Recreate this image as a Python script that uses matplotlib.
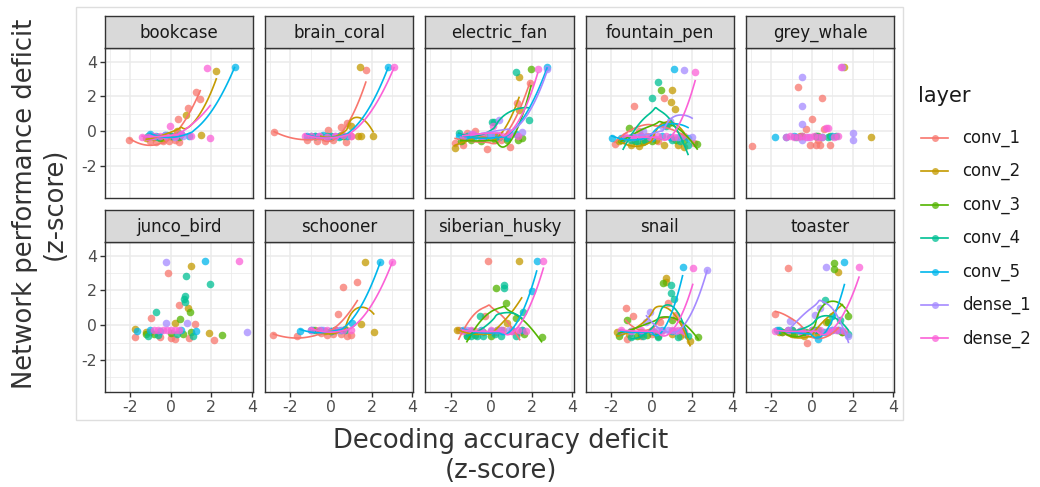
import numpy as np
import matplotlib.pyplot as plt
from matplotlib.patches import Rectangle
from matplotlib.lines import Line2D

W, H = 1040, 487

layers = ['conv_1', 'conv_2', 'conv_3', 'conv_4', 'conv_5', 'dense_1', 'dense_2']
colors = ['#F8766D', '#C49A00', '#53B400', '#00C094', '#00B6EB', '#A58AFF', '#FB61D7']

# decoding deficit (x) / network deficit (y), per panel and layer
bookcase = {
    'conv_1': ([-2.03, -1.0, -0.7, -0.4, -0.1, 0.2, 0.4, 0.38, 0.84, 1.26, 1.46],
               [-0.52, -0.6, -0.65, -0.55, -0.6, -0.5, -0.65, 0.67, 1.33, 2.27, 1.83]),
    'conv_2': ([-1.2, -0.8, -0.4, 0.0, 0.31, 0.77, 1.49, 2.25],
               [-0.4, -0.35, -0.45, -0.3, 0.0, 0.9, -0.25, 3.48]),
    'conv_3': ([-1.0, -0.5, 0.0, 0.4], [-0.3, -0.4, -0.3, -0.35]),
    'conv_4': ([-1.1, -0.6, -0.2, 0.3], [-0.3, -0.35, -0.25, -0.3]),
    'conv_5': ([-1.0, -0.7, -0.3, 0.1, 0.5, 0.9, 3.15],
               [-0.2, -0.3, -0.25, -0.3, -0.2, -0.3, 3.67]),
    'dense_1': ([-0.9, -0.3, 0.2, 0.6], [-0.3, -0.25, -0.35, -0.3]),
    'dense_2': ([-1.4, -1.1, -0.8, -0.5, -0.2, -0.05, 0.2, 0.5, 1.0, 1.79, 1.95],
                [-0.35, -0.35, -0.3, -0.3, -0.35, 0.29, -0.3, -0.2, -0.3, 3.65, -0.38]),
}
brain_coral = {
    'conv_1': ([-2.8, -1.2, -0.67, -0.3, -0.13, 0.1, 0.52, 0.72, 0.77, 1.0, 1.72],
               [-0.04, -0.5, -0.6, -0.55, 0.06, -0.5, 0.25, -0.65, 0.44, -0.3, 3.5]),
    'conv_2': ([-0.5, 0.0, 0.5, 1.0, 1.35, 1.43, 1.5, 2.08],
               [-0.3, -0.3, -0.25, 0.3, -0.3, 3.7, -0.3, -0.3]),
    'conv_3': ([-0.8, 0.0, 0.6], [-0.3, -0.35, -0.3]),
    'conv_4': ([-1.0, -0.2, 0.4], [-0.3, -0.3, -0.35]),
    'conv_5': ([-1.2, -0.8, -0.4, 0.0, 0.4, 0.8, 2.82],
               [-0.3, -0.3, -0.25, -0.3, -0.3, -0.3, 3.67]),
    'dense_1': ([-0.6, 0.2], [-0.3, -0.3]),
    'dense_2': ([-1.3, -1.0, -0.6, -0.2, 0.2, 0.6, 1.0, 3.11],
                [-0.3, -0.3, -0.3, -0.35, -0.3, -0.25, -0.3, 3.67]),
}
electric_fan = {
    'conv_1': ([-1.78, -1.37, -1.2, -0.8, -0.22, 0.2, 0.5, 0.92, 1.27, 1.9],
               [-0.67, -0.8, -0.1, 0.0, -1.06, -0.3, -0.5, -0.9, 1.63, 2.75]),
    'conv_2': ([-1.8, -1.4, -1.0, -0.4, 0.3, 0.9, 1.37, 1.37],
               [-1.0, -0.5, -0.3, -0.4, -0.3, -0.2, 1.2, 3.13]),
    'conv_3': ([-1.5, -1.0, -0.5, 0.2, 0.8, 1.3, 1.5, 1.96],
               [-0.6, -0.5, -0.55, -0.5, -0.5, -0.5, -0.42, 3.58]),
    'conv_4': ([-1.6, -1.2, -0.3, 0.05, 0.15, 0.8, 1.22, 1.88],
               [-0.1, -0.3, -0.3, 0.54, 0.54, -0.4, 3.42, 0.63]),
    'conv_5': ([-1.6, -1.2, -0.8, -0.4, 0.0, 0.4, 0.8, 1.2, 2.75],
               [-0.3, -0.35, -0.3, -0.4, -0.3, -0.35, -0.3, -0.2, 3.71]),
    'dense_1': ([-1.0, -0.5, 0.0, 0.4, 0.9, 1.5, 2.75],
                [-0.2, -0.3, -0.25, 0.63, -0.1, -0.04, 3.56]),
    'dense_2': ([-1.4, -0.9, -0.4, 0.1, 0.5, 0.9, 1.3, 2.29],
                [-0.3, -0.2, -0.3, 0.3, -0.25, -0.2, -0.3, 3.6]),
}
fountain_pen = {
    'conv_1': ([-1.8, -1.4, -0.84, -0.6, -0.2, 0.3, 0.63, 1.0, 1.6, 2.1],
               [-0.75, -0.5, 1.44, 0.0, -0.3, -0.6, 1.88, -0.4, -0.3, -0.7]),
    'conv_2': ([-1.6, -1.0, -0.6, -0.3, 0.2, 0.6, 0.96, 1.02, 1.15, 1.3, 1.6],
               [-0.6, -0.8, -0.85, -0.6, -0.5, -0.8, 1.7, 2.37, 1.27, -0.8, -0.9]),
    'conv_3': ([-1.5, -1.1, -0.8, -0.4, 0.0, 0.45, 0.8, 1.2, 1.6, 2.25],
               [-0.5, 0.2, -0.55, -0.65, -0.6, 2.37, 0.4, -0.5, -0.5, -0.75]),
    'conv_4': ([-1.4, -1.0, -0.7, -0.3, 0.04, 0.3, 0.7, 1.0, 1.4, 1.8],
               [-0.4, -0.5, -0.6, -0.5, 1.88, 2.8, 0.3, -0.5, -0.6, -0.8]),
    'conv_5': ([-1.96, -1.5, -1.0, -0.5, 0.0, 0.5, 0.9, 1.1, 1.4, 1.8],
               [-0.38, -0.4, -0.35, -0.3, -0.4, -0.3, -0.35, 3.58, -0.35, -0.4]),
    'dense_1': ([-0.9, -0.4, 0.0, 0.5, 0.9, 1.3, 1.6, 2.0],
                [-0.3, 0.0, -0.3, 0.3, 0.6, -0.35, 3.52, -0.35]),
    'dense_2': ([-1.3, -0.9, -0.5, -0.1, 0.3, 0.7, 1.1, 1.5, 2.15],
                [-0.3, -0.35, -0.3, -0.35, -0.3, -0.3, -0.35, -0.3, 3.42]),
}
grey_whale = {
    'conv_1': ([-2.93, -0.7, -0.3, 0.0, 0.51, 0.2, 0.4, -0.1, 0.6, 0.9, 0.3],
               [-0.87, 2.52, 0.1, 0.67, 1.92, -0.8, -0.8, -0.8, 0.1, -0.8, -0.5]),
    'conv_2': ([1.6, 2.89, -0.6, 0.2], [3.67, -0.33, -0.3, -0.3]),
    'conv_3': ([-0.5, 0.3, 0.9], [-0.3, -0.3, -0.3]),
    'conv_4': ([-0.8, 0.2, 0.8, 1.2], [-0.33, -0.3, -0.33, -0.3]),
    'conv_5': ([-1.8, -1.3, -0.9, 0.5, 1.0], [-0.33, -0.33, -0.3, -0.33, -0.3]),
    'dense_1': ([-0.47, -0.47, -0.47, -0.47, 1.5, 2.0, 2.0, -0.2],
                [3.13, 1.46, 0.4, -0.5, 3.67, -0.1, -0.52, -0.33]),
    'dense_2': ([-1.3, -1.1, -0.9, -0.7, -0.5, -0.3, -0.1, 0.1, 0.3, 0.5, 0.7, 0.8, 1.1, 1.3, 1.45],
                [-0.33, -0.3, -0.33, -0.33, -0.3, -0.33, -0.33, -0.3, -0.33, -0.33, 0.15, 0.15, -0.33, -0.3, 3.67]),
}
junco_bird = {
    'conv_1': ([-1.77, -0.97, -0.15, 0.4, -0.5, 0.0, 0.9, 1.2, 2.15, -1.0, 0.2],
               [-0.71, 0.42, 3.02, 1.15, -0.7, -0.75, -0.75, 0.05, -0.87, -0.4, -0.8]),
    'conv_2': ([-1.74, 1.0, 0.87, 1.87, 0.2, -1.2], [-0.23, 3.42, 1.0, -0.48, 0.1, -0.4]),
    'conv_3': ([0.93, 0.48, 2.52, -1.2, -0.8, 0.0, 0.6, 1.0],
               [0.77, 0.38, -0.58, -0.5, -0.5, -0.45, -0.5, -0.4]),
    'conv_4': ([0.77, 1.95, 0.7, 0.65, 0.72, -0.7, -1.1, -0.6, 0.3, 1.1],
               [2.83, 2.37, 1.7, 1.5, 1.35, 0.77, -0.6, -0.55, -0.5, -0.6]),
    'conv_5': ([-1.66, 1.7, -1.0, -0.5, 0.5, 1.25], [-0.35, 3.69, -0.3, -0.35, -0.25, -0.35]),
    'dense_1': ([-0.25, 3.75, -0.25, 0.8], [3.65, -0.38, 0.1, 0.1]),
    'dense_2': ([3.36, -0.8, -0.6, -0.4, -0.2, 0.0, 0.2, 0.4],
                [3.69, -0.3, -0.3, -0.3, -0.3, -0.3, -0.3, -0.3]),
}
schooner = {
    'conv_1': ([-2.84, -1.66, -0.5, -0.2, 0.1, 0.36, 0.5, 0.61, 0.8, 1.0, 1.3],
               [-0.54, -0.63, -0.45, -0.55, -0.5, 0.63, -0.5, 2.21, -0.65, -0.55, 2.48]),
    'conv_2': ([-0.8, -0.3, 0.2, 0.7, 1.46, 1.67, 2.11],
               [-0.3, -0.35, -0.3, -0.2, 0.08, 3.62, -0.42]),
    'conv_3': ([-0.6, 0.2], [-0.35, -0.3]),
    'conv_4': ([-0.9, 0.0, 0.7], [-0.3, -0.35, -0.3]),
    'conv_5': ([-1.52, -1.0, -0.5, 0.0, 0.5, 1.02, 2.43],
               [-0.35, -0.3, -0.3, -0.35, -0.3, 0.15, 3.65]),
    'dense_1': ([-0.4, 0.4], [-0.3, -0.3]),
    'dense_2': ([-1.0, -0.6, -0.2, 0.2, 0.6, 1.0, 3.03],
                [-0.3, -0.25, -0.3, -0.3, -0.3, -0.3, 3.65]),
}
siberian_husky = {
    'conv_1': ([-1.6, -1.2, -0.8, -0.14, -0.3, 0.2, 0.6, 1.0, 1.4],
               [-0.3, -0.4, -0.35, 3.69, 0.5, -0.4, -0.3, -0.35, -0.4]),
    'conv_2': ([-1.7, -1.0, -0.4, 0.3, 0.8, 1.37, 1.5],
               [-0.3, -0.35, -0.4, -0.3, 0.1, 3.69, -0.3]),
    'conv_3': ([-1.2, -0.8, 0.0, 0.24, 0.73, 1.2, 1.6, 2.48],
               [-0.6, -0.55, -0.6, 2.15, 1.3, 0.4, -0.5, -0.67]),
    'conv_4': ([-1.2, -1.0, -0.7, -0.55, -0.4, 0.2, 0.5, 0.63, 0.63, 1.2, 1.55],
               [-0.6, -0.6, -0.6, 0.54, -0.6, -0.5, -0.6, 2.3, 2.15, -0.6, 0.75]),
    'conv_5': ([-1.4, -1.0, -0.5, 0.0, 0.5, 1.0, 1.5, 1.99, 2.24],
               [-0.3, -0.35, -0.3, -0.35, -0.3, -0.3, -0.3, 1.96, 3.69]),
    'dense_1': ([-1.2, -0.5, 0.3, 0.9], [-0.3, -0.35, -0.3, -0.3]),
    'dense_2': ([-1.4, -1.0, -0.5, 0.0, 0.5, 1.0, 1.3, 1.7, 2.57],
                [-0.35, -0.3, -0.35, -0.3, -0.3, -0.35, -0.3, -0.35, 3.69]),
}
snail = {
    'conv_1': ([-1.27, -0.9, -1.2, -0.5, 0.0, 0.4, 0.8, 1.2, 1.6],
               [0.96, 0.5, -0.8, -0.6, -0.5, 0.2, 1.3, 0.6, -0.5]),
    'conv_2': ([-1.7, -1.1, -0.5, 0.1, 0.7, 0.7, 1.0, 1.4, 1.9],
               [-0.4, -0.5, -0.5, -0.4, 2.7, 2.5, -0.5, -0.6, -0.9]),
    'conv_3': ([-1.6, -1.22, -0.7, -0.2, 0.3, 0.58, 1.0, 1.5, 2.3],
               [-0.6, 0.29, -0.6, -0.55, -0.6, 2.42, 0.3, -0.3, -0.71]),
    'conv_4': ([-1.0, -0.4, 0.3, 0.95, 0.95, 1.1, 1.3, 1.8],
               [-0.7, -0.6, -0.7, 2.3, 1.85, 1.5, -0.7, -0.6]),
    'conv_5': ([-1.5, -1.0, -0.5, 0.0, 0.5, 1.0, 1.53],
               [-0.4, -0.35, -0.4, -0.35, -0.3, -0.35, 3.37]),
    'dense_1': ([-0.07, -0.25, 0.3, 0.8, 1.2, 1.5, 2.74],
                [0.77, 0.2, -0.3, -0.3, -0.35, -0.3, 3.17]),
    'dense_2': ([-1.5, -1.0, -0.5, 0.0, 0.5, 1.0, 1.3, 1.6, 2.03],
                [-0.3, -0.35, -0.3, -0.3, -0.35, -0.3, -0.3, -0.35, 3.31]),
}
toaster = {
    'conv_1': ([-1.8, -1.16, -1.5, -1.0, -0.5, -0.22, 0.3, 0.8, 1.3],
               [0.63, 3.27, -0.4, -0.3, -0.4, -1.0, -0.5, -0.4, -0.3]),
    'conv_2': ([-1.6, -1.0, -0.4, 0.2, 0.7, 1.3, 1.5],
               [-0.4, -0.5, -0.6, -0.5, 0.2, 3.08, -0.4]),
    'conv_3': ([-1.5, -0.9, -0.3, 0.3, 0.8, 1.1, 1.1, 1.5, 1.8],
               [-0.4, -0.5, -0.4, -0.3, 0.2, 3.56, 3.21, -0.4, 0.5]),
    'conv_4': ([-1.6, -1.0, -0.4, 0.2, 0.65, 1.0, 1.4, 1.8],
               [-0.3, -0.3, -0.4, -0.3, 1.44, 0.5, 0.3, -0.5]),
    'conv_5': ([-1.7, -1.2, -0.6, 0.0, 0.3, 0.6, 1.0, 1.3, 1.6],
               [-0.3, -0.3, -0.35, -0.3, -0.8, -0.4, -0.3, -0.3, 3.65]),
    'dense_1': ([-1.07, -0.5, 0.16, 0.4, 0.69, 1.0, 1.4, 1.8],
                [0.25, -0.3, 0.58, 1.0, 3.37, -0.3, -0.3, -0.6]),
    'dense_2': ([-1.8, -1.2, -0.6, 0.0, 0.4, 0.8, 1.2, 1.6, 2.32],
                [-0.35, -0.3, -0.35, -0.3, -0.3, -0.35, -0.3, -0.35, 3.37]),
}

panel_names = ['bookcase', 'brain_coral', 'electric_fan', 'fountain_pen', 'grey_whale',
               'junco_bird', 'schooner', 'siberian_husky', 'snail', 'toaster']
panel_data = [bookcase, brain_coral, electric_fan, fountain_pen, grey_whale,
              junco_bird, schooner, siberian_husky, snail, toaster]
# layers that got a smooth line in each panel
smoothed = {
    'bookcase': ['conv_1', 'conv_2', 'conv_5', 'dense_2'],
    'brain_coral': ['conv_1', 'conv_2', 'conv_5', 'dense_2'],
    'electric_fan': layers,
    'fountain_pen': layers,
    'grey_whale': [],
    'junco_bird': [],
    'schooner': ['conv_1', 'conv_2', 'conv_5', 'dense_2'],
    'siberian_husky': ['conv_1', 'conv_2', 'conv_3', 'conv_4', 'conv_5', 'dense_2'],
    'snail': layers,
    'toaster': layers,
}


def loess(x, y, grid, span=1.0):
    # local quadratic fit with tricube weights (like R's loess)
    x = np.asarray(x, float)
    y = np.asarray(y, float)
    n = len(x)
    q = max(int(np.floor(n * span)), 3)
    out = []
    for x0 in grid:
        d = np.abs(x - x0)
        h = np.sort(d)[min(q, n) - 1] * 1.1 + 1e-9
        w = np.clip(1 - (d / h) ** 3, 0, None) ** 3
        A = np.vstack([np.ones(n), x - x0, (x - x0) ** 2]).T
        sw = np.sqrt(w)
        beta = np.linalg.lstsq(A * sw[:, None], y * sw, rcond=None)[0]
        out.append(beta[0])
    return np.array(out)


def box(l, t, r, b):
    return [l / W, 1 - b / H, (r - l) / W, (b - t) / H]


fig = plt.figure(figsize=(W / 100, H / 100), dpi=100)

# light frame of the panel area
fig.patches.append(Rectangle((76 / W, 1 - 420 / H), (903 - 76) / W, (420 - 7) / H,
                             transform=fig.transFigure, fill=False,
                             edgecolor='#DEDEDE', lw=1.0))

lefts = [104.7, 265.0, 425.3, 585.6, 746.0]
pw = 148.3
rows = [(15.7, 48.0, 197.7), (210.0, 242.0, 392.0)]

for i, name in enumerate(panel_names):
    r, c = divmod(i, 5)
    st, pt, pb = rows[r]
    l = lefts[c]

    ax = fig.add_axes(box(l, pt, l + pw, pb))
    ax.set_xlim(-3.25, 4.06)
    ax.set_ylim(-3.85, 4.79)
    ax.set_xticks([-2, 0, 2, 4])
    ax.set_yticks([-2, 0, 2, 4])
    ax.set_xticks([-3, -1, 1, 3], minor=True)
    ax.set_yticks([-3, -1, 1, 3], minor=True)
    ax.grid(True, which='major', color='#EBEBEB', lw=1.1)
    ax.grid(True, which='minor', color='#EBEBEB', lw=0.55)
    ax.set_axisbelow(True)
    for s in ax.spines.values():
        s.set_color('#333333')
        s.set_linewidth(1.0)
    ax.tick_params(which='minor', length=0)
    ax.tick_params(which='major', length=3.5, width=1.0, color='#333333',
                   labelcolor='#4D4D4D', labelsize=11.3, pad=2)
    if r == 0:
        ax.tick_params(axis='x', which='major', length=0, labelbottom=False)
    if c != 0:
        ax.tick_params(axis='y', which='major', length=0, labelleft=False)
    ax.set_xticklabels(['-2', '0', '2', '4'])
    ax.set_yticklabels(['-2', '0', '2', '4'])

    d = panel_data[i]
    for k, lay in enumerate(layers):
        xs, ys = d[lay]
        ax.scatter(xs, ys, s=30, color=colors[k], alpha=0.75, lw=0, zorder=3)
    for k, lay in enumerate(layers):
        if lay not in smoothed[name]:
            continue
        xs, ys = d[lay]
        grid = np.linspace(min(xs), max(xs), 80)
        ax.plot(grid, loess(xs, ys, grid), color=colors[k], lw=1.2, zorder=4)

    sax = fig.add_axes(box(l, st, l + pw, pt))
    sax.set_facecolor('#D9D9D9')
    sax.set_xticks([])
    sax.set_yticks([])
    for s in sax.spines.values():
        s.set_color('#333333')
        s.set_linewidth(1.0)
    sax.text(0.5, 0.47, name, ha='center', va='center', fontsize=12,
             color='#1A1A1A', transform=sax.transAxes)

# axis titles
fig.text(501 / W, 1 - 456 / H, 'Decoding accuracy deficit\n(z-score)', ha='center',
         va='center', fontsize=18.6, color='#333333', linespacing=1.2)
fig.text(40 / W, 1 - 204 / H, 'Network performance deficit\n(z-score)', ha='center',
         va='center', fontsize=18.6, color='#333333', rotation=90, linespacing=1.2)

# legend
fig.text(918 / W, 1 - 96 / H, 'layer', ha='left', va='center', fontsize=15, color='#1A1A1A')
for k, lay in enumerate(layers):
    y = 1 - (138 + 33.4 * k) / H
    fig.lines.append(Line2D([921 / W, 948 / W], [y, y], transform=fig.transFigure,
                            color=colors[k], lw=1.2))
    fig.lines.append(Line2D([934.5 / W], [y], transform=fig.transFigure, marker='o',
                            ms=5, color=colors[k], alpha=0.75, mew=0))
    fig.text(962 / W, y, lay, ha='left', va='center', fontsize=11.9, color='#1A1A1A')

fig.savefig('out.png', dpi=100)
